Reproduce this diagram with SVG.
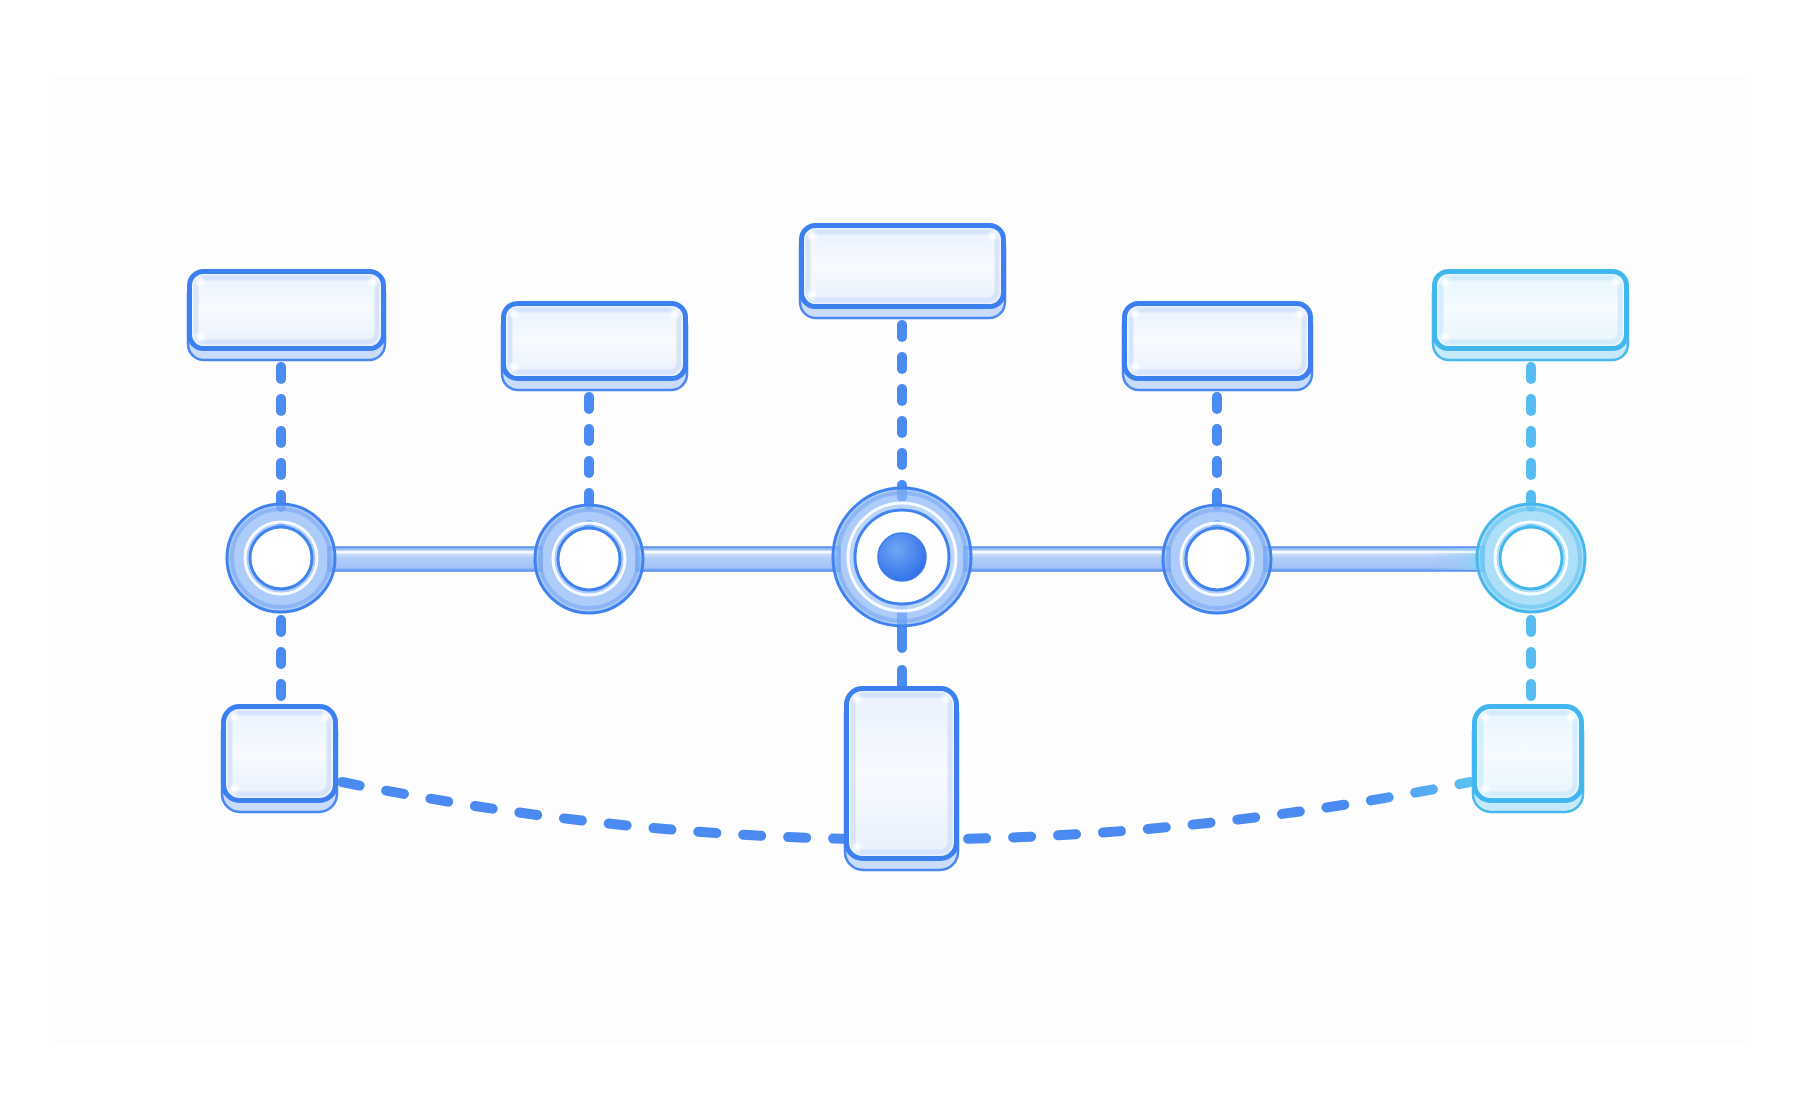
<svg xmlns="http://www.w3.org/2000/svg" width="1800" height="1106" viewBox="0 0 1800 1106">
<defs>
<linearGradient id="faceB" x1="0" y1="0" x2="0" y2="1">
<stop offset="0" stop-color="#e9f1fe"/><stop offset="0.5" stop-color="#f7faff"/><stop offset="1" stop-color="#e8f0fd"/>
</linearGradient>
<linearGradient id="faceC" x1="0" y1="0" x2="0" y2="1">
<stop offset="0" stop-color="#e6f5fe"/><stop offset="0.5" stop-color="#f6fbff"/><stop offset="1" stop-color="#e6f4fd"/>
</linearGradient>
<linearGradient id="barB" x1="0" y1="0" x2="0" y2="1">
<stop offset="0" stop-color="#6a9ef3"/><stop offset="0.22" stop-color="#dbe8fd"/><stop offset="0.45" stop-color="#b3cefa"/><stop offset="0.85" stop-color="#a2c3f8"/><stop offset="1" stop-color="#6096f1"/>
</linearGradient>
<linearGradient id="barBC" x1="1264" y1="0" x2="1484" y2="0" gradientUnits="userSpaceOnUse">
<stop offset="0" stop-color="#a2c3f8" stop-opacity="0"/><stop offset="0.75" stop-color="#a2c3f8" stop-opacity="0"/><stop offset="1" stop-color="#8fd3f6"/>
</linearGradient>
<linearGradient id="curveG" x1="342" y1="0" x2="1470" y2="0" gradientUnits="userSpaceOnUse">
<stop offset="0" stop-color="#4a8af1"/><stop offset="0.9" stop-color="#4a8af1"/><stop offset="1" stop-color="#5cc0f0"/>
</linearGradient>
<radialGradient id="dot" cx="0.4" cy="0.35" r="0.7">
<stop offset="0" stop-color="#6fa6f6"/><stop offset="1" stop-color="#2f6fe8"/>
</radialGradient>
<filter id="soft" x="-50%" y="-50%" width="200%" height="200%"><feGaussianBlur stdDeviation="1.5"/></filter>
</defs>
<style>
.slab{fill:#c9dcfb;stroke:#4a88f0;stroke-width:2.5}
.face{fill:url(#faceB);stroke:#3b7ff0;stroke-width:5}
.glow{fill:none;stroke:#cfe0fb;stroke-width:5;opacity:0.8}
.shine{fill:#fff;opacity:0.95}
.c .slab{fill:#c6e9fa;stroke:#48b8ee}
.c .face{fill:url(#faceC);stroke:#42b6ee}
.c .glow{stroke:#cdeafb}
.ring{fill:none;stroke:#8fb9f7;stroke-width:23;opacity:0.72}
.ring2{fill:none;stroke:#6d9ff4;stroke-width:4;opacity:0.5}
.edge{fill:none;stroke:#3f82f0;stroke-width:3}
.hole{fill:#fff;stroke:#3f82f0;stroke-width:3}
.hl{fill:none;stroke:#fff;stroke-width:3;opacity:0.9}
.c .ring{stroke:#8fd2f7}
.c .ring2{stroke:#52bdf0}
.c .edge,.c .hole{stroke:#45b7ee}
.dash{fill:none;stroke:#4a8bf1;stroke-width:10;stroke-linecap:round;stroke-dasharray:12 20}
.dash.cy{stroke:#55bdf1}
.bar{stroke:#5a90f0;stroke-width:1.5}
</style>
<rect x="0" y="0" width="1800" height="1106" fill="#ffffff"/>
<rect x="50" y="75" width="1700" height="968" fill="#fdfdfd"/>

<g id="connectors">
<path d="M342,782 Q905,897 1470,782" fill="none" stroke="url(#curveG)" stroke-width="10" stroke-linecap="round" stroke-dasharray="18 27"/>
<line class="dash" x1="281" y1="367" x2="281" y2="530"/>
<line class="dash" x1="281" y1="620" x2="281" y2="712"/>
<line class="dash" x1="589" y1="397" x2="589" y2="530"/>
<line class="dash" x1="902" y1="325" x2="902" y2="520"/>
<line x1="902" y1="600" x2="902" y2="648" stroke="#4a8bf1" stroke-width="10" stroke-linecap="round"/>
<line x1="902" y1="670" x2="902" y2="700" stroke="#4a8bf1" stroke-width="10" stroke-linecap="round"/>
<line class="dash" x1="1217" y1="397" x2="1217" y2="530"/>
<line class="dash cy" x1="1531" y1="367" x2="1531" y2="530"/>
<line class="dash cy" x1="1531" y1="620" x2="1531" y2="712"/>
<rect class="bar" x="328" y="547" width="214" height="24" fill="url(#barB)"/>
<rect class="bar" x="636" y="547" width="204" height="24" fill="url(#barB)"/>
<rect class="bar" x="964" y="547" width="206" height="24" fill="url(#barB)"/>
<rect class="bar" x="1264" y="547" width="220" height="24" fill="url(#barB)"/>
<rect x="1264" y="548" width="220" height="22" fill="url(#barBC)"/>
<g stroke="#fff" stroke-width="2.5" opacity="0.8">
<line x1="332" y1="552" x2="538" y2="552"/>
<line x1="640" y1="552" x2="836" y2="552"/>
<line x1="968" y1="552" x2="1166" y2="552"/>
<line x1="1268" y1="552" x2="1480" y2="552"/>
</g>
</g>

<g id="box1" transform="translate(188,270)">
<rect class="slab" x="0" y="8" width="197" height="82" rx="16"/>
<rect class="face" x="1.5" y="1.5" width="194" height="77" rx="14"/>
<rect class="glow" x="8" y="8" width="181" height="64" rx="9"/>
<circle class="shine" cx="12" cy="12" r="4" filter="url(#soft)"/><circle class="shine" cx="185" cy="12" r="4" filter="url(#soft)"/><circle class="shine" cx="12" cy="67" r="4" filter="url(#soft)"/>
</g>
<g id="box2" transform="translate(502,302)">
<rect class="slab" x="0" y="8" width="185" height="80" rx="16"/>
<rect class="face" x="1.5" y="1.5" width="182" height="75" rx="14"/>
<rect class="glow" x="8" y="8" width="169" height="62" rx="9"/>
<circle class="shine" cx="12" cy="12" r="4" filter="url(#soft)"/><circle class="shine" cx="173" cy="12" r="4" filter="url(#soft)"/><circle class="shine" cx="12" cy="65" r="4" filter="url(#soft)"/>
</g>
<g id="box3" transform="translate(800,224)">
<rect class="slab" x="0" y="8" width="205" height="86" rx="16"/>
<rect class="face" x="1.5" y="1.5" width="202" height="81" rx="14"/>
<rect class="glow" x="8" y="8" width="189" height="68" rx="9"/>
<circle class="shine" cx="12" cy="12" r="4" filter="url(#soft)"/><circle class="shine" cx="193" cy="12" r="4" filter="url(#soft)"/><circle class="shine" cx="12" cy="71" r="4" filter="url(#soft)"/>
</g>
<g id="box4" transform="translate(1123,302)">
<rect class="slab" x="0" y="8" width="189" height="80" rx="16"/>
<rect class="face" x="1.5" y="1.5" width="186" height="75" rx="14"/>
<rect class="glow" x="8" y="8" width="173" height="62" rx="9"/>
<circle class="shine" cx="12" cy="12" r="4" filter="url(#soft)"/><circle class="shine" cx="177" cy="12" r="4" filter="url(#soft)"/><circle class="shine" cx="12" cy="65" r="4" filter="url(#soft)"/>
</g>
<g id="box5" class="c" transform="translate(1433,270)">
<rect class="slab" x="0" y="8" width="195" height="82" rx="16"/>
<rect class="face" x="1.5" y="1.5" width="192" height="77" rx="14"/>
<rect class="glow" x="8" y="8" width="179" height="64" rx="9"/>
<circle class="shine" cx="12" cy="12" r="4" filter="url(#soft)"/><circle class="shine" cx="183" cy="12" r="4" filter="url(#soft)"/><circle class="shine" cx="12" cy="67" r="4" filter="url(#soft)"/>
</g>

<g id="circle1" transform="translate(281,558)">
<circle class="ring" r="42.5"/><circle class="ring2" r="49"/><circle class="edge" r="54"/><circle class="hole" r="31"/><circle class="hl" r="36"/>
</g>
<g id="circle2" transform="translate(589,559)">
<circle class="ring" r="42.5"/><circle class="ring2" r="49"/><circle class="edge" r="54"/><circle class="hole" r="31"/><circle class="hl" r="36"/>
</g>
<g id="circle3" transform="translate(902,557)">
<circle class="ring" r="58" style="stroke-width:22"/><circle class="ring2" r="64"/><circle class="ring" r="50" style="stroke:#c2d8fb;stroke-width:7"/><circle class="edge" r="69"/><circle class="hole" r="47"/><circle class="hl" r="54"/>
<circle r="24" fill="url(#dot)" stroke="#3a7bef" stroke-width="1.5"/>
</g>
<g id="circle4" transform="translate(1217,559)">
<circle class="ring" r="42.5"/><circle class="ring2" r="49"/><circle class="edge" r="54"/><circle class="hole" r="31"/><circle class="hl" r="36"/>
</g>
<g id="circle5" class="c" transform="translate(1531,558)">
<circle class="ring" r="42.5"/><circle class="ring2" r="49"/><circle class="edge" r="54"/><circle class="hole" r="31"/><circle class="hl" r="36"/>
</g>

<g id="bottom1" transform="translate(222,705)">
<rect class="slab" x="0" y="8" width="115" height="99" rx="18"/>
<rect class="face" x="1.5" y="1.5" width="112" height="94" rx="16"/>
<rect class="glow" x="8" y="8" width="99" height="81" rx="10"/>
<circle class="shine" cx="12" cy="12" r="4" filter="url(#soft)"/><circle class="shine" cx="103" cy="12" r="4" filter="url(#soft)"/><circle class="shine" cx="12" cy="84" r="4" filter="url(#soft)"/>
</g>
<g id="bottom2" transform="translate(845,687)">
<rect class="slab" x="0" y="8" width="113" height="175" rx="18"/>
<rect class="face" x="1.5" y="1.5" width="110" height="170" rx="16"/>
<rect class="glow" x="8" y="8" width="97" height="157" rx="10"/>
<circle class="shine" cx="12" cy="12" r="4" filter="url(#soft)"/><circle class="shine" cx="101" cy="12" r="4" filter="url(#soft)"/><circle class="shine" cx="12" cy="160" r="4" filter="url(#soft)"/>
</g>
<g id="bottom3" class="c" transform="translate(1473,705)">
<rect class="slab" x="0" y="8" width="110" height="99" rx="18"/>
<rect class="face" x="1.5" y="1.5" width="107" height="94" rx="16"/>
<rect class="glow" x="8" y="8" width="94" height="81" rx="10"/>
<circle class="shine" cx="12" cy="12" r="4" filter="url(#soft)"/><circle class="shine" cx="98" cy="12" r="4" filter="url(#soft)"/><circle class="shine" cx="12" cy="84" r="4" filter="url(#soft)"/>
</g>
</svg>
